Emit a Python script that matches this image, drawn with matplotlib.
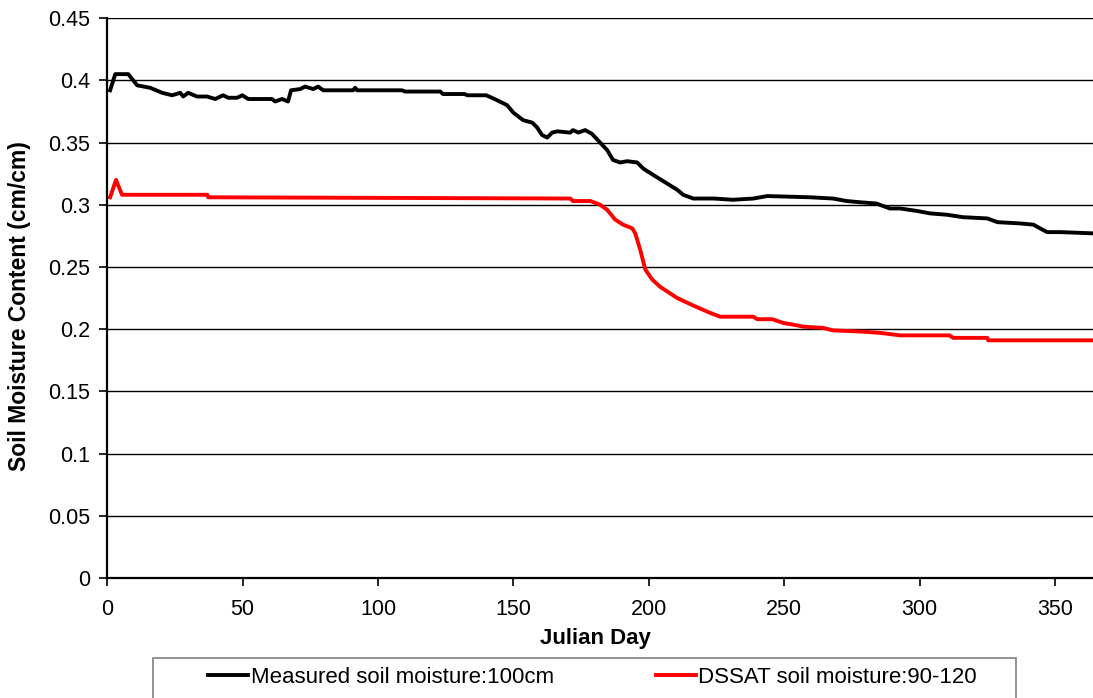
import matplotlib
matplotlib.use("Agg")
import matplotlib.pyplot as plt
from matplotlib.patches import Rectangle

plt.rcParams["font.family"] = ["Liberation Sans", "DejaVu Sans"]

# Measured soil moisture at 100 cm
measured_day = [1.1, 3.0, 7.8, 11.1, 15.9, 20.3, 24.0, 27.0, 28.1, 29.9, 33.2, 36.9, 39.9,
                42.8, 44.7, 48.0, 49.9, 52.1, 60.9, 62.0, 64.6, 66.8, 67.9, 71.3, 73.1,
                76.1, 77.9, 79.8, 90.8, 91.6, 92.3, 108.9, 110.0, 123.0, 124.0, 132.0,
                133.0, 140.0, 144.0, 147.7, 150.0, 153.6, 157.0, 158.8, 160.6, 162.5,
                164.3, 166.2, 171.0, 172.0, 174.0, 176.5, 179.0, 182.0, 184.6, 186.8,
                189.4, 192.0, 195.7, 198.0, 201.6, 206.8, 210.5, 212.7, 216.4, 224.0,
                231.0, 238.6, 243.7, 259.6, 268.0, 273.0, 278.0, 284.0, 289.0, 292.8,
                299.0, 304.0, 310.0, 316.0, 325.0, 328.7, 337.0, 342.0, 347.0, 352.0, 364.0]
measured_sm = [0.392, 0.405, 0.405, 0.396, 0.394, 0.390, 0.388, 0.390, 0.387, 0.390, 0.387,
               0.387, 0.385, 0.388, 0.386, 0.386, 0.388, 0.385, 0.385, 0.383, 0.385, 0.383,
               0.392, 0.393, 0.395, 0.393, 0.395, 0.392, 0.392, 0.394, 0.392, 0.392, 0.391,
               0.391, 0.389, 0.389, 0.388, 0.388, 0.384, 0.380, 0.374, 0.368, 0.366, 0.362,
               0.356, 0.354, 0.358, 0.359, 0.358, 0.360, 0.358, 0.360, 0.357, 0.350, 0.344,
               0.336, 0.334, 0.335, 0.334, 0.329, 0.324, 0.317, 0.312, 0.308, 0.305, 0.305,
               0.304, 0.305, 0.307, 0.306, 0.305, 0.303, 0.302, 0.301, 0.297, 0.297, 0.295,
               0.293, 0.292, 0.290, 0.289, 0.286, 0.285, 0.284, 0.278, 0.278, 0.277]

# DSSAT simulated soil moisture, 90-120 cm layer
dssat_day = [1.1, 3.3, 4.0, 5.5, 37.0, 37.3, 171.0, 172.0, 178.4, 182.0, 184.6, 187.6,
             190.5, 193.9, 195.0, 196.8, 198.7, 201.2, 204.2, 210.5, 216.4, 222.7, 226.4,
             238.6, 240.0, 245.6, 249.6, 254.8, 257.0, 264.4, 268.0, 279.0, 285.4, 292.8,
             311.0, 312.4, 325.0, 325.3, 364.0]
dssat_sm = [0.306, 0.320, 0.316, 0.308, 0.308, 0.306, 0.305, 0.303, 0.303, 0.300, 0.296,
            0.288, 0.284, 0.281, 0.277, 0.264, 0.248, 0.240, 0.234, 0.225, 0.219, 0.213,
            0.210, 0.210, 0.208, 0.208, 0.205, 0.203, 0.202, 0.201, 0.199, 0.198, 0.197,
            0.195, 0.195, 0.193, 0.193, 0.191, 0.191]

y_ticks = [0, 0.05, 0.1, 0.15, 0.2, 0.25, 0.3, 0.35, 0.4, 0.45]
y_labels = ["0", "0.05", "0.1", "0.15", "0.2", "0.25", "0.3", "0.35", "0.4", "0.45"]
x_ticks = [0, 50, 100, 150, 200, 250, 300, 350]

fig = plt.figure(figsize=(10.93, 6.98), dpi=100)
ax = fig.add_axes([0.098, 0.172, 0.902, 0.802])

ax.plot(measured_day, measured_sm, color="black", lw=2.8,
        label="Measured soil moisture:100cm", solid_joinstyle="round")
ax.plot(dssat_day, dssat_sm, color="red", lw=2.8,
        label="DSSAT soil moisture:90-120", solid_joinstyle="round")

ax.set_xlim(0, 364)
ax.set_ylim(0, 0.45)
ax.set_yticks(y_ticks)
ax.set_yticklabels(y_labels)
ax.set_xticks(x_ticks)
ax.yaxis.grid(True, color="black", lw=1.0)
ax.set_axisbelow(True)
for s in ["top", "right"]:
    ax.spines[s].set_visible(False)
for s in ["left", "bottom"]:
    ax.spines[s].set_linewidth(1.6)
ax.tick_params(axis="both", labelsize=15.5, length=6, width=1.2, direction="out")
ax.tick_params(axis="y", pad=6)
ax.tick_params(axis="x", pad=9)
ax.set_xlabel("Julian Day", fontsize=16, fontweight="bold")
ax.set_ylabel("Soil Moisture Content (cm/cm)", fontsize=16.5, fontweight="bold")
ax.xaxis.set_label_coords(0.495, -0.089)
ax.yaxis.set_label_coords(-0.077, 0.485)

# legend box sits partly below the figure edge, as in the reference
fig.patches.append(Rectangle((153 / 1093, -0.02), (1016 - 153) / 1093, 0.02 + 40 / 698,
                             transform=fig.transFigure, fill=False,
                             edgecolor="#808080", lw=1.2))
fig.legend(loc="center", bbox_to_anchor=(592.5 / 1093, 0.029), ncol=2, fontsize=16,
           handlelength=1.8, handletextpad=0.1, columnspacing=4.6, frameon=False,
           borderaxespad=0)

fig.savefig("out.png", dpi=100)
